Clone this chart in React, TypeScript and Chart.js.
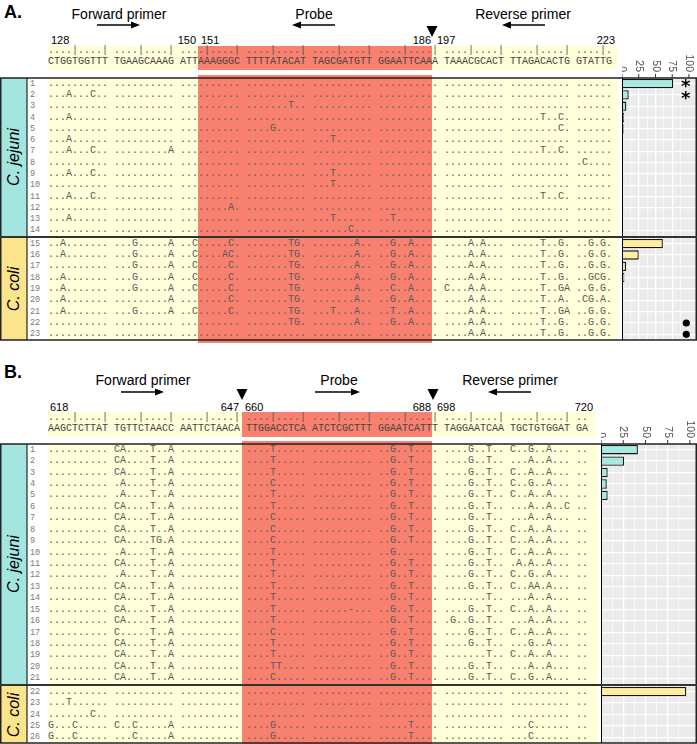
import React, { useEffect, useRef } from "react";
import { Chart, registerables } from "chart.js";
Chart.register(...registerables);

// ---------------- DATA ----------------
const A_REF_SEQ = "CTGGTGGTTT TGAAGCAAAG ATTAAAGGGC TTTTATACAT TAGCGATGTT GGAATTCAAA TAAACGCACT TTAGACACTG GTATTG";
const A_RULER = "....|....| ....|....| ....|....| ....|....| ....|....| ....|....| ....|....| ....|....| ....|.";
const A_POS_LABELS = ["128", "150", "151", "186", "197", "223"];

const A_JEJ_ROWS = ["1", "2", "3", "4", "5", "6", "7", "8", "9", "10", "11", "12", "13", "14"];
const A_JEJ_ALIGN = [
  ".......... .......... .......... .......... .......... .......... .......... .......... ......",
  "...A...C.. .......... .......... .......... .......... .......... .......... .......... ......",
  ".......... .......... .......... .......T.. .......... .......... .......... .......... ......",
  "...A...... .......... .......... .......... .......... .......... .......... .....T..C. ......",
  ".......... .......... .......... ....G..... .......... .......... .......... ........C. ......",
  "...A...... .......... .......... .......... ...T...... .......... .......... .......... ......",
  "...A...C.. .........A .......... .......... .......... .......... .......... .....T..C. ......",
  ".......... .......... .......... .......... .......... .......... .......... .......... .C....",
  "...A...C.. .......... .......... .......... ...T...... .......... .......... .......... ......",
  ".......... .......... .......... .......... ...T...... .......... .......... .......... ......",
  "...A...C.. .......... .......... .......... .......... .......... .......... .....T..C. ......",
  ".......... .......... ........A. .......... .......... .......... .......... .......... ......",
  "...A...... .......... .......... .......... ...T...... ..T....... .......... .......... ......",
  ".......... .......... .......... .......... ......C... .......... .......... .......... ......",
];
const A_JEJ_PCT = [76.5, 10, 6.5, 3, 2.5, 1.5, 1, 1, 1, 1, 0.8, 0.8, 0.8, 0.8];
const A_JEJ_STARRED = ["1", "2"];

const A_COLI_ROWS = ["15", "16", "17", "18", "19", "20", "21", "22", "23"];
const A_COLI_ALIGN = [
  "..A....... ...G.....A ..C.....C. .......TG. .......A.. ..G..A.... ....A.A... .....T..G. ..G.G.",
  "..A....... ...G.....A ..C....AC. .......TG. .......A.. ..G..A.... ....A.A... .....T..G. ..G.G.",
  ".......... ...G.....A ..C.....C. .......TG. .......A.. ..G..A.... ....A.A... .....T..G. ..G.G.",
  "..A....... ...G.....A ..C.....C. .......TG. .......A.. ..G..A.... ....A.A... .....T..G. ..GCG.",
  "..A....... ...G.....A ..C.....C. .......TG. .......A.. ..C..A.... C...A.A... .....T..GA ..G.G.",
  "..A....... .........A ........C. .......TG. .......A.. ..G..A.... ....A.A... .....T..A. .CG.A.",
  "..A....... ...G.....A ..C.....C. .......TG. ...T...A.. ..T..A.... ....A.A... .....T..GA ..G.G.",
  ".......... .......... .......... .......TG. .......A.. ..G..A.... ....A.A... .....T..G. ..G.G.",
  ".......... .......... .......... .......... .......... .......... ....A.A... .....T..G. ..G.G.",
];
const A_COLI_PCT = [61, 25, 6, 3.5, 1.5, 1, 1, 0.7, 0.7];
const A_COLI_DOTTED = ["22", "23"];

const B_REF_SEQ = "AAGCTCTTAT TGTTCTAACC AATTCTAACA TTGGACCTCA ATCTCGCTTT GGAATCATTT TAGGAATCAA TGCTGTGGAT GA";
const B_RULER = "....|....| ....|....| ....|....| ....|....| ....|....| ....|....| ....|....| ....|....| ..";
const B_POS_LABELS = ["618", "647", "660", "688", "698", "720"];

const B_JEJ_ROWS = ["1", "2", "3", "4", "5", "6", "7", "8", "9", "10", "11", "12", "13", "14", "15", "16", "17", "18", "19", "20", "21"];
const B_JEJ_ALIGN = [
  ".......... CA....T..A .......... ....T..... .......... ..G..T.... ....G..T.. C..G..A... ..",
  ".......... CA....T..A .......... ....T..... .......... ..G..T.... ....G..T.. ...A..A... ..",
  ".......... CA....T..A .......... ....T..... .......... ..G..T.... ....G..T.. C..A..A... ..",
  ".......... .A....T..A .......... ....C..... .......... ..G..T.... ....G..T.. C..G..A... ..",
  ".......... .A....T..A .......... ....T..... .......... ..G..T.... ....G..T.. C..A..A... ..",
  ".......... CA....T..A .......... ....T..... .......... ..G..T.... ....G..T.. ...A..A..C ..",
  ".......... CA....T..A .......... ....C..... .......... ..G..T.... ....G..T.. ...A..A... ..",
  ".......... CA....T..A .......... ....C..... .......... ..G..T.... ....G..T.. C..A..A... ..",
  ".......... CA....TG.A .......... ....C..... .......... ..G..T.... ....G..T.. C..A..A... ..",
  ".......... .A....T..A .......... ....T..... .......... ..G....... ....G..T.. C..A..A... ..",
  ".......... CA....T..A .......... ....T..... .......... ..G..T.... ....G..T.. .A.A..A... ..",
  ".......... .A....T..A .......... ....T..... .......... ..G..T.... ....G..T.. C..G..A... ..",
  ".......... CA....T..A .......... ....T..... .......... ..G..T.... ....G..T.. C..AA.A... ..",
  ".......... CA....T..A .......... ....T..... .......... ..G..T.... .......T.. ...A..A... ..",
  ".......... CA....T..A .......... ....T..... ......-... ..G..T.... ....G..T.. C..A..A... ..",
  ".......... CA....T..A .......... ....T..... .......... ..G..T.... .G..G..T.. ...A..A... ..",
  ".......... C.....T..A .......... ....C..... .......... ..G..T.... ....G..T.. C..A..A... ..",
  ".......... CA....T..A .......... ....T..... .......... ..G..T.... ....G..T.. ...G..A... ..",
  ".......... CA....T..A .......... ....T..... .......... ..G..T.... .......T.. C..A..A... ..",
  ".......... CA....T..A .......... ....TT.... .......... ..G..T.... ....G..T.. ...A..A... ..",
  ".......... CA....T..A .......... ....C..... .......... ..G..T.... ....G..T.. C..G..A... ..",
];
const B_JEJ_PCT = [41.5, 26, 7.5, 6.5, 7.5, 1.2, 1.2, 1, 1, 0.8, 0.8, 0.8, 0.8, 0.8, 0.8, 0.8, 0.8, 0.8, 0.8, 0.8, 0.8];

const B_COLI_ROWS = ["22", "23", "24", "25", "26"];
const B_COLI_ALIGN = [
  ".......... .......... .......... .......... .......... .......... .......... .......... ..",
  "...T...... .......... .......... .......... .......... .......... .......... .......... ..",
  ".......C.. .......... .......... .......... .......... .......... .......... .......... ..",
  "G...C..... C..C.....A .......... ....G..... .......... .....T.... .......... ...C...... ..",
  "G...C..... ...C.....A .......... ....G..... .......... .....T.... .......... ...C...... ..",
];
const B_COLI_PCT = [96, 0.8, 0.5, 0.5, 0.5];

const AXIS_TICKS = [0, 25, 50, 75, 100];
const TITLES = ["Forward primer", "Probe", "Reverse primer"];
const SPECIES = ["C. jejuni", "C. coli"];

// ---------------- STYLE / LAYOUT ----------------
const COL = {
  cyan: "#A3E5DF",
  cyanBar: "#A8E9E2",
  yellowStrip: "#FCE48D",
  yellowBar: "#FFEE9E",
  lightYellow: "#FFFFD9",
  red: "#F8806F",
  panel: "#EBEBEB",
  text: "#5a5a5a",
};
const SEQ_X = 48;
const MONO = '"Liberation Mono", "DejaVu Sans Mono", monospace';
const SANS = '"Liberation Sans", Arial, sans-serif';

type Facet = { top: number; bottom: number };

function rowY(f: Facet, n: number, i: number) {
  return f.top + ((i + 0.5) * (f.bottom - f.top)) / n;
}

function Txt(props: {
  x: number; y: number; text: string; size: number; align?: "left" | "center" | "right";
  bold?: boolean; italic?: boolean; family?: string; color?: string; rotate?: number;
}) {
  const { x, y, text, size, align = "center", bold, italic, family = SANS, color = "#000", rotate } = props;
  const tx = align === "center" ? "-50%" : align === "right" ? "-100%" : "0";
  return (
    <div
      style={{
        position: "absolute", left: x, top: y, whiteSpace: "pre",
        transform: `translate(${tx}, -50%)` + (rotate ? ` rotate(${rotate}deg)` : ""),
        fontFamily: family, fontSize: size, lineHeight: `${size}px`,
        fontWeight: bold ? 700 : 400, fontStyle: italic ? "italic" : "normal", color,
      }}
    >
      {text}
    </div>
  );
}

function BarPanel(props: {
  left: number; top: number; width: number; height: number; axisSpace: number;
  labels: string[]; values: number[]; fill: string; xMax: number; showTicks: boolean;
  starred?: string[]; dotted?: string[];
}) {
  const ref = useRef<HTMLCanvasElement>(null);
  useEffect(() => {
    const { labels, values, fill, xMax, axisSpace, showTicks, starred = [], dotted = [] } = props;
    const deco = {
      id: "panelDeco",
      beforeDraw(chart: any) {
        const { ctx, chartArea: a } = chart;
        ctx.save();
        ctx.fillStyle = COL.panel;
        ctx.fillRect(a.left, a.top, a.right - a.left, a.bottom - a.top);
        ctx.restore();
      },
      afterDatasetsDraw(chart: any) {
        const { ctx, chartArea: a, scales } = chart;
        const x = scales.x, y = scales.y;
        const x0 = x.getPixelForValue(0);
        ctx.save();
        ctx.strokeStyle = "#000";
        ctx.lineWidth = 2;
        ctx.beginPath();
        ctx.moveTo(x0, a.top);
        ctx.lineTo(x0, a.bottom);
        ctx.stroke();
        ctx.fillStyle = "#000";
        ctx.font = 'bold 18px "DejaVu Sans"';
        ctx.textAlign = "center";
        ctx.textBaseline = "middle";
        starred.forEach((lab) => {
          const yy = y.getPixelForValue(labels.indexOf(lab));
          ctx.fillText("*", x.getPixelForValue(95), yy + 4);
        });
        dotted.forEach((lab) => {
          const yy = y.getPixelForValue(labels.indexOf(lab));
          ctx.beginPath();
          ctx.arc(x.getPixelForValue(96), yy, 3.6, 0, Math.PI * 2);
          ctx.fill();
        });
        ctx.restore();
      },
      afterDraw(chart: any) {
        if (!showTicks) return;
        const { ctx, chartArea: a, scales } = chart;
        const x = scales.x;
        ctx.save();
        ctx.strokeStyle = "#333";
        ctx.fillStyle = "#4d4d4d";
        ctx.lineWidth = 1;
        ctx.font = `10.5px ${SANS}`;
        ctx.textAlign = "right";
        ctx.textBaseline = "middle";
        AXIS_TICKS.forEach((v) => {
          const px = x.getPixelForValue(v);
          ctx.beginPath();
          ctx.moveTo(px, a.top - 4);
          ctx.lineTo(px, a.top);
          ctx.stroke();
          ctx.save();
          ctx.translate(px, a.top - 6);
          ctx.rotate(Math.PI / 2);
          ctx.fillText(String(v), 0, 0);
          ctx.restore();
        });
        ctx.restore();
      },
    };
    const chart = new Chart(ref.current as HTMLCanvasElement, {
      type: "bar",
      data: {
        labels,
        datasets: [{
          data: values, backgroundColor: fill, borderColor: "#151515", borderWidth: 1.3,
          barPercentage: 0.82, categoryPercentage: 1,
        }],
      },
      options: {
        indexAxis: "y", responsive: false, maintainAspectRatio: false, animation: false, events: [],
        layout: { padding: 0 },
        plugins: { legend: { display: false }, tooltip: { enabled: false } },
        scales: {
          x: {
            type: "linear", position: "top", min: 0, max: xMax,
            ticks: { display: false, stepSize: 12.5 },
            grid: {
              color: "#ffffff", drawTicks: false,
              lineWidth: (c: any) => (c.tick && c.tick.value % 25 === 0 ? 1.3 : 0.6),
            },
            border: { display: false },
            afterFit: (s: any) => { s.height = axisSpace; },
          },
          y: {
            type: "category",
            ticks: { display: false },
            grid: { color: "#ffffff", lineWidth: 1.3, offset: false, drawTicks: false },
            border: { display: false },
            afterFit: (s: any) => { s.width = 0; },
          },
        },
      } as any,
      plugins: [deco as any],
    });
    return () => chart.destroy();
  }, []);
  return (
    <canvas
      ref={ref}
      width={props.width}
      height={props.height}
      style={{ position: "absolute", left: props.left, top: props.top, width: props.width, height: props.height }}
    />
  );
}

function Rows(props: { facet: Facet; rows: string[]; align: string[] }) {
  const { facet, rows, align } = props;
  return (
    <>
      {rows.map((r, i) => {
        const cy = rowY(facet, rows.length, i);
        return (
          <React.Fragment key={r}>
            <Txt x={30} y={cy} text={r} size={8.5} align="left" family={MONO} color="#7a7a7a" />
            <Txt x={SEQ_X} y={cy} text={align[i]} size={10} align="left" family={MONO} color={COL.text} />
          </React.Fragment>
        );
      })}
    </>
  );
}

function Arrow({ x1, x2, y, dir }: { x1: number; x2: number; y: number; dir: "left" | "right" }) {
  const tip = dir === "right" ? x2 : x1;
  const s = dir === "right" ? -1 : 1;
  return (
    <g>
      <line x1={dir === "right" ? x1 : x1 + 6} x2={dir === "right" ? x2 - 6 : x2} y1={y} y2={y} stroke="#000" strokeWidth={1.3} />
      <polygon points={`${tip},${y} ${tip + s * 9},${y - 3.6} ${tip + s * 9},${y + 3.6}`} fill="#000" />
    </g>
  );
}

function Tri({ x, y }: { x: number; y: number }) {
  return <polygon points={`${x - 5.5},${y} ${x + 5.5},${y} ${x},${y + 11}`} fill="#000" />;
}

// panel geometry
const A_J: Facet = { top: 78, bottom: 236 };
const A_C: Facet = { top: 238, bottom: 340 };
const B_J: Facet = { top: 444, bottom: 684 };
const B_C: Facet = { top: 686, bottom: 743 };

export default function App() {
  return (
    <div style={{ position: "absolute", left: 0, top: 0, width: 697, height: 744, overflow: "hidden", background: "#fff" }}>
      {/* backgrounds */}
      <svg width={697} height={744} style={{ position: "absolute", left: 0, top: 0 }}>
        {/* panel A */}
        <rect x={48} y={46} width={569} height={24} fill={COL.lightYellow} />
        <rect x={48} y={78} width={570} height={262} fill={COL.lightYellow} />
        <rect x={198} y={46} width={234} height={24} fill={COL.red} />
        <rect x={198} y={75} width={234} height={268} fill={COL.red} />
        <rect x={0} y={A_J.top} width={27} height={A_J.bottom - A_J.top} fill={COL.cyan} />
        <rect x={0} y={A_C.top} width={27} height={A_C.bottom - A_C.top} fill={COL.yellowStrip} />
        {/* panel B */}
        <rect x={48} y={412} width={547} height={25} fill={COL.lightYellow} />
        <rect x={48} y={444} width={550} height={300} fill={COL.lightYellow} />
        <rect x={242} y={412} width={190} height={25} fill={COL.red} />
        <rect x={242} y={441} width={190} height={303} fill={COL.red} />
        <rect x={0} y={B_J.top} width={27} height={B_J.bottom - B_J.top} fill={COL.cyan} />
        <rect x={0} y={B_C.top} width={27} height={B_C.bottom - B_C.top} fill={COL.yellowStrip} />
      </svg>

      {/* Panel A header */}
      <Txt x={4} y={12} text="A." size={18} bold align="left" />
      <Txt x={119} y={14} text={TITLES[0]} size={14} />
      <Txt x={314} y={14} text={TITLES[1]} size={14} />
      <Txt x={523} y={14} text={TITLES[2]} size={14} />
      <Txt x={51} y={40} text={A_POS_LABELS[0]} size={11} align="left" />
      <Txt x={196} y={40} text={A_POS_LABELS[1]} size={11} align="right" />
      <Txt x={201} y={40} text={A_POS_LABELS[2]} size={11} align="left" />
      <Txt x={431} y={40} text={A_POS_LABELS[3]} size={11} align="right" />
      <Txt x={437} y={40} text={A_POS_LABELS[4]} size={11} align="left" />
      <Txt x={615} y={40} text={A_POS_LABELS[5]} size={11} align="right" />
      <Txt x={SEQ_X} y={51} text={A_RULER} size={10} align="left" family={MONO} color="#555" />
      <Txt x={SEQ_X} y={62} text={A_REF_SEQ} size={10} align="left" family={MONO} color="#444" />

      <Rows facet={A_J} rows={A_JEJ_ROWS} align={A_JEJ_ALIGN} />
      <Rows facet={A_C} rows={A_COLI_ROWS} align={A_COLI_ALIGN} />
      <Txt x={14} y={(A_J.top + A_J.bottom) / 2} text={SPECIES[0]} size={16} italic rotate={-90} />
      <Txt x={14} y={(A_C.top + A_C.bottom) / 2} text={SPECIES[1]} size={16} italic rotate={-90} />

      <BarPanel left={622} top={20} width={75} height={A_J.bottom - 20} axisSpace={A_J.top - 20}
        labels={A_JEJ_ROWS} values={A_JEJ_PCT} fill={COL.cyanBar} xMax={112} showTicks starred={A_JEJ_STARRED} />
      <BarPanel left={622} top={A_C.top} width={75} height={A_C.bottom - A_C.top} axisSpace={0}
        labels={A_COLI_ROWS} values={A_COLI_PCT} fill={COL.yellowBar} xMax={112} showTicks={false} dotted={A_COLI_DOTTED} />

      {/* Panel B header */}
      <Txt x={4} y={372} text="B." size={18} bold align="left" />
      <Txt x={143} y={380} text={TITLES[0]} size={14} />
      <Txt x={339} y={380} text={TITLES[1]} size={14} />
      <Txt x={510} y={380} text={TITLES[2]} size={14} />
      <Txt x={50} y={407} text={B_POS_LABELS[0]} size={11} align="left" />
      <Txt x={239} y={407} text={B_POS_LABELS[1]} size={11} align="right" />
      <Txt x={245} y={407} text={B_POS_LABELS[2]} size={11} align="left" />
      <Txt x={431} y={407} text={B_POS_LABELS[3]} size={11} align="right" />
      <Txt x={437} y={407} text={B_POS_LABELS[4]} size={11} align="left" />
      <Txt x={593} y={407} text={B_POS_LABELS[5]} size={11} align="right" />
      <Txt x={SEQ_X} y={418} text={B_RULER} size={10} align="left" family={MONO} color="#555" />
      <Txt x={SEQ_X} y={429} text={B_REF_SEQ} size={10} align="left" family={MONO} color="#444" />

      <Rows facet={B_J} rows={B_JEJ_ROWS} align={B_JEJ_ALIGN} />
      <Rows facet={B_C} rows={B_COLI_ROWS} align={B_COLI_ALIGN} />
      <Txt x={14} y={(B_J.top + B_J.bottom) / 2} text={SPECIES[0]} size={16} italic rotate={-90} />
      <Txt x={14} y={(B_C.top + B_C.bottom) / 2} text={SPECIES[1]} size={16} italic rotate={-90} />

      <BarPanel left={601} top={384} width={96} height={B_J.bottom - 384} axisSpace={B_J.top - 384}
        labels={B_JEJ_ROWS} values={B_JEJ_PCT} fill={COL.cyanBar} xMax={108} showTicks />
      <BarPanel left={601} top={B_C.top} width={96} height={B_C.bottom - B_C.top} axisSpace={0}
        labels={B_COLI_ROWS} values={B_COLI_PCT} fill={COL.yellowBar} xMax={108} showTicks={false} />

      {/* overlay lines */}
      <svg width={697} height={744} style={{ position: "absolute", left: 0, top: 0, pointerEvents: "none" }}>
        <Arrow x1={97} x2={140} y={25} dir="right" />
        <Arrow x1={292} x2={335} y={25} dir="left" />
        <Arrow x1={502} x2={545} y={25} dir="left" />
        <Tri x={432} y={26} />
        <rect x={0.75} y={A_J.top} width={695.5} height={A_C.bottom - A_J.top} fill="none" stroke="#222" strokeWidth={1.5} />
        <line x1={0} x2={697} y1={237} y2={237} stroke="#333" strokeWidth={2} />
        <line x1={27} x2={27} y1={A_J.top} y2={A_C.bottom} stroke="#222" strokeWidth={1.2} />

        <Arrow x1={121} x2={164} y={392} dir="right" />
        <Arrow x1={315} x2={360} y={392} dir="right" />
        <Arrow x1={488} x2={531} y={392} dir="left" />
        <Tri x={242} y={389} />
        <Tri x={433} y={389} />
        <rect x={0.75} y={B_J.top} width={695.5} height={B_C.bottom - B_J.top} fill="none" stroke="#222" strokeWidth={1.5} />
        <line x1={0} x2={697} y1={685} y2={685} stroke="#333" strokeWidth={2} />
        <line x1={27} x2={27} y1={B_J.top} y2={B_C.bottom} stroke="#222" strokeWidth={1.2} />
      </svg>
    </div>
  );
}
